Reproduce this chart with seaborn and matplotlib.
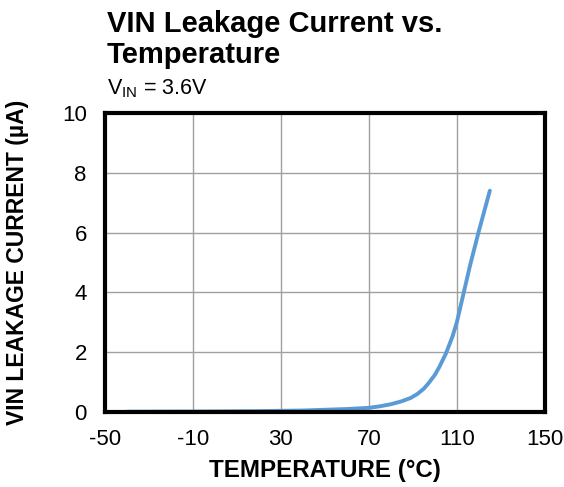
import matplotlib
matplotlib.use("Agg")
import matplotlib.pyplot as plt
import seaborn as sns
import pandas as pd

temperature = [-40, -20, 0, 20, 40, 60, 70, 75, 80, 85, 89, 92, 95, 97, 100, 102, 105, 108, 110, 113, 116, 120, 125]
leakage_ua = [0.01, 0.015, 0.02, 0.03, 0.05, 0.1, 0.14, 0.19, 0.26, 0.36, 0.47, 0.6, 0.78, 0.95, 1.24, 1.5, 1.95, 2.52, 3.0, 3.95, 4.9, 6.05, 7.4]
x_ticks = [-50, -10, 30, 70, 110, 150]
y_ticks = [0, 2, 4, 6, 8, 10]

sns.set_theme(style="white")
plt.rcParams['font.family'] = ['Liberation Sans', 'DejaVu Sans']
plt.rcParams['text.color'] = 'black'
plt.rcParams['axes.labelcolor'] = 'black'
plt.rcParams['axes.unicode_minus'] = False

df = pd.DataFrame({"T": temperature, "I": leakage_ua})

fig = plt.figure(figsize=(5.64, 4.87), dpi=100)
ax = fig.add_axes([0.186, 0.154, 0.780, 0.614])
sns.lineplot(data=df, x="T", y="I", ax=ax, color="#5B9BD5", linewidth=2.8)
ax.lines[0].set_solid_capstyle("round")
ax.lines[0].set_solid_joinstyle("round")

ax.set_xlim(-50, 150)
ax.set_ylim(0, 10)
ax.set_xticks(x_ticks)
ax.set_yticks(y_ticks)
ax.grid(True, color="#A0A0A0", linewidth=1.0)
for s in ax.spines.values():
    s.set_color("black")
    s.set_linewidth(3.0)
ax.tick_params(axis="both", labelsize=16, length=0, colors="black")
ax.tick_params(axis="x", pad=12)
ax.tick_params(axis="y", pad=13)
ax.set_xlabel("TEMPERATURE (°C)", fontsize=17.4, fontweight="bold", labelpad=6.5)
ax.set_ylabel("VIN LEAKAGE CURRENT (µA)", fontsize=16.5, fontweight="bold", labelpad=23.5)

fig.text(107/564, 1 - 10/487, "VIN Leakage Current vs.\nTemperature", fontsize=21,
         fontweight="bold", ha="left", va="top", linespacing=1.13)
fig.text(107/564, 1 - 77/487, r"V$_\mathregular{IN}$ = 3.6V", fontsize=15.5, ha="left", va="top")

fig.savefig("out.png", dpi=100)
